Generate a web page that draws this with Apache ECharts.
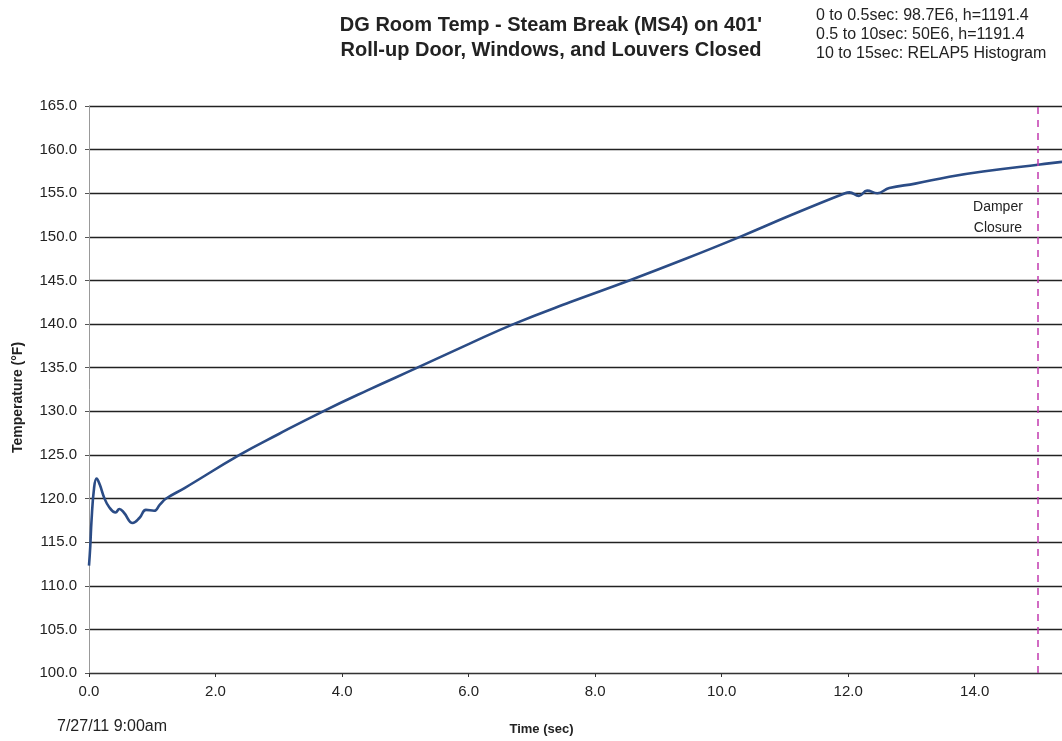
<!DOCTYPE html>
<html>
<head>
<meta charset="utf-8">
<script src="https://cdn.jsdelivr.net/npm/echarts@6/dist/echarts.min.js"></script>
<style>
  html, body { margin: 0; padding: 0; background: #fff; }
  #chart { width: 1062px; height: 741px; }
</style>
</head>
<body>
<div id="chart"></div>
<script>
// ---- data ----
const times = [0.00, 0.02, 0.04, 0.08, 0.12, 0.17, 0.24, 0.32, 0.42, 0.48, 0.55, 0.69, 0.80, 0.90, 1.03, 1.12, 1.22, 1.51,
  2.38, 3.00, 3.70, 4.40, 5.19, 6.00, 6.71, 7.60, 8.54, 9.40, 10.29, 11.10, 11.95, 12.02, 12.17, 12.30, 12.46, 12.65,
  13.06, 13.60, 14.13, 15.03, 15.38];
const temps = [112.3, 114.5, 117.5, 121.2, 122.3, 121.6, 120.1, 119.0, 118.4, 118.8, 118.4, 117.2, 117.8, 118.7, 118.6, 119.3, 120.0, 121.2,
  125.0, 127.4, 130.0, 132.4, 135.0, 137.7, 140.0, 142.5, 145.0, 147.4, 150.0, 152.5, 155.0, 155.1, 154.7, 155.3, 155.0, 155.6,
  156.1, 156.9, 157.5, 158.3, 158.6];
const xTickValues = [0, 2, 4, 6, 8, 10, 12, 14];
const damperTime = [15.0];
const titleLines = ["DG Room Temp - Steam Break (MS4) on 401'", "Roll-up Door, Windows, and Louvers Closed"];
const noteLines = ["0 to 0.5sec: 98.7E6, h=1191.4", "0.5 to 10sec: 50E6, h=1191.4", "10 to 15sec: RELAP5 Histogram"];
const damperLabel = ["Damper", "Closure"];
const dateLabel = "7/27/11 9:00am";

const FONT = "'Liberation Sans', Arial, sans-serif";
const chart = echarts.init(document.getElementById('chart'), null, { renderer: 'canvas' });

const seriesData = times.map((t, i) => [t, temps[i]]);

chart.setOption({
  backgroundColor: '#ffffff',
  animation: false,
  textStyle: { fontFamily: FONT },
  title: [
    {
      text: titleLines.join('\n'),
      left: 546, top: 8, textAlign: 'center',
      textStyle: { fontFamily: FONT, fontSize: 20, fontWeight: 'bold', color: '#222', lineHeight: 25 }
    },
    {
      text: noteLines.join('\n'),
      left: 811, top: 1,
      textStyle: { fontFamily: FONT, fontSize: 16, fontWeight: 'normal', color: '#222', lineHeight: 19 }
    }
  ],
  grid: { left: 89, right: 0, top: 106, bottom: 67, containLabel: false },
  xAxis: {
    type: 'value',
    min: 0, max: 15.38,
    name: 'Time (sec)',
    nameLocation: 'middle',
    nameGap: 50,
    nameTextStyle: { fontFamily: FONT, fontSize: 13, fontWeight: 'bold', color: '#222', padding: [0, 68, 0, 0] },
    axisLine: { show: true, lineStyle: { color: '#333', width: 1.2 } },
    axisTick: { show: true, customValues: xTickValues, length: 4, inside: false, lineStyle: { color: '#333' } },
    axisLabel: {
      customValues: xTickValues,
      margin: 11,
      fontFamily: FONT, fontSize: 15, color: '#222',
      formatter: v => v.toFixed(1)
    },
    splitLine: { show: false }
  },
  yAxis: {
    type: 'value',
    min: 100, max: 165, interval: 5,
    name: 'Temperature (°F)',
    nameLocation: 'middle',
    nameGap: 64,
    nameTextStyle: { fontFamily: FONT, fontSize: 14, fontWeight: 'bold', color: '#222', padding: [0, 16, 0, 0] },
    axisLine: { show: true, lineStyle: { color: '#999', width: 1 } },
    axisTick: { show: true, length: 4, inside: false, lineStyle: { color: '#555' } },
    axisLabel: {
      margin: 12,
      fontFamily: FONT, fontSize: 15, color: '#222',
      formatter: v => v.toFixed(1)
    },
    splitLine: { show: true, lineStyle: { color: '#222', width: 1.4 } }
  },
  series: [
    {
      type: 'line',
      data: seriesData,
      smooth: 0.45,
      symbol: 'none',
      lineStyle: { color: '#2b4c86', width: 2.6 },
      markLine: {
        silent: true,
        symbol: ['none', 'none'],
        label: { show: false },
        lineStyle: { color: '#c23bb0', type: [7, 6], width: 1.5 },
        data: damperTime.map(t => ({ xAxis: t }))
      },
      z: 3
    }
  ],
  graphic: []
});

// Place damper label and date label relative to the axes
const p = chart.convertToPixel({ gridIndex: 0 }, [damperTime[0], 151.5]);
const p0 = chart.convertToPixel({ gridIndex: 0 }, [0, 100]);
chart.setOption({
  graphic: [
    {
      type: 'text',
      left: p[0] - 72, top: p[1] - 27,
      style: {
        text: damperLabel.join('\n'),
        fill: '#222', font: '14px ' + FONT, lineHeight: 21, textAlign: 'center', align: 'center', width: 64
      }
    },
    {
      type: 'text',
      left: p0[0] - 32, top: p0[1] + 46,
      style: { text: dateLabel, fill: '#222', font: '16px ' + FONT }
    }
  ]
});
</script>
</body>
</html>
